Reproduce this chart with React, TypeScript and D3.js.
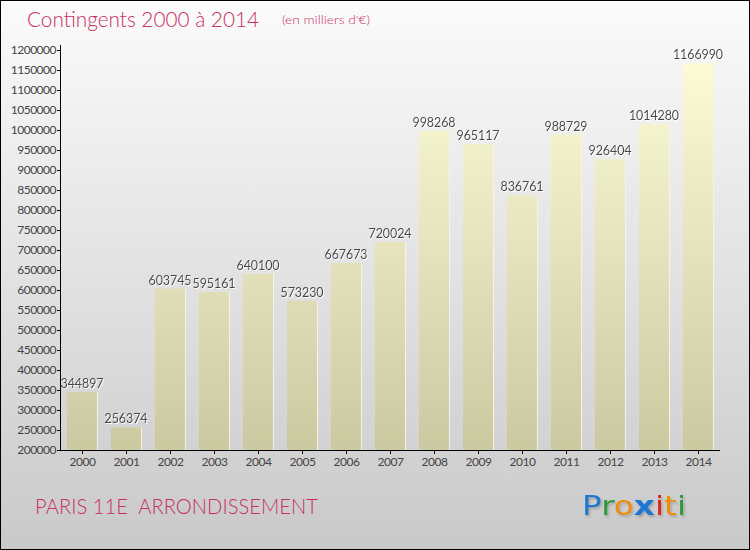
import React from "react";
import * as d3 from "d3";

const years = ["2000","2001","2002","2003","2004","2005","2006","2007","2008","2009","2010","2011","2012","2013","2014"];
const values = [344897,256374,603745,595161,640100,573230,667673,720024,998268,965117,836761,988729,926404,1014280,1166990];
const yTicks = d3.range(200000, 1200001, 50000);

const W = 750, H = 550;
const left = 60, right = 720, top = 50, bottom = 450;
const font = "Lato, 'Open Sans', sans-serif";
const pink = "#c8305f";

export default function App() {
  const x = d3.scaleBand<string>().domain(years).range([left, right]).padding(0);
  const y = d3.scaleLinear().domain([200000, 1200000]).range([bottom, top]);
  const bw = x.bandwidth() * 0.68;
  const logo: [string, string][] = [["P","#1e78d0"],["r","#2a9a3c"],["o","#f28c00"],["x","#1e78d0"],["i","#e0241c"],["t","#f28c00"],["i","#2a9a3c"]];
  return (
    <svg width={W} height={H} style={{ position: "absolute", left: 0, top: 0 }}>
      <defs>
        <linearGradient id="bg" x1="0" y1="0" x2="0" y2="1">
          <stop offset="0" stopColor="#fbfbfb" />
          <stop offset="1" stopColor="#c9c9c9" />
        </linearGradient>
        <linearGradient id="bar" gradientUnits="userSpaceOnUse" x1="0" y1={top} x2="0" y2={bottom}>
          <stop offset="0" stopColor="#fdfdd6" />
          <stop offset="1" stopColor="#cbc9a0" />
        </linearGradient>
        <filter id="sh" x="-20%" y="-20%" width="140%" height="140%">
          <feDropShadow dx="1" dy="1" stdDeviation="0.6" floodColor="#ffffff" floodOpacity="0.9" />
        </filter>
        <filter id="lsh" x="-20%" y="-20%" width="140%" height="160%">
          <feDropShadow dx="1.5" dy="2" stdDeviation="1" floodColor="#888" floodOpacity="0.6" />
        </filter>
      </defs>
      <rect x={0.5} y={0.5} width={W - 1} height={H - 1} fill="url(#bg)" stroke="#000" strokeWidth={1} />
      <text x={27} y={27} fontFamily={font} fontWeight={300} fontSize={22} fill={pink} textLength={232} lengthAdjust="spacingAndGlyphs">Contingents 2000 à 2014</text>
      <text x={282} y={24} fontFamily={font} fontWeight={300} fontSize={12} fill={pink} textLength={88} lengthAdjust="spacingAndGlyphs">(en milliers d'€)</text>

      {values.map((v, i) => {
        const cx = (x(years[i]) as number) + x.bandwidth() / 2;
        const yt = y(v);
        return (
          <g key={years[i]}>
            <rect x={cx - bw / 2} y={yt} width={bw} height={bottom - yt} fill="url(#bar)" />
            <line x1={cx + bw / 2 + 0.5} x2={cx + bw / 2 + 0.5} y1={yt} y2={bottom} stroke="#f4f4ea" strokeWidth={1} />
            <text x={cx} y={yt - 4} textAnchor="middle" fontFamily={font} fontSize={12.5} fill="#444" filter="url(#sh)" letterSpacing={-0.1}>{v}</text>
          </g>
        );
      })}

      <line x1={left + 0.5} x2={left + 0.5} y1={top - 5} y2={bottom} stroke="#000" />
      {yTicks.map(t => (
        <g key={t}>
          <line x1={left - 3} x2={left} y1={Math.round(y(t)) + 0.5} y2={Math.round(y(t)) + 0.5} stroke="#000" />
          <text x={left - 4} y={y(t) + 4} textAnchor="end" fontFamily={font} fontSize={12} fill="#444" letterSpacing={-0.5}>{t}</text>
        </g>
      ))}
      <line x1={left} x2={right} y1={bottom + 0.5} y2={bottom + 0.5} stroke="#000" />
      {years.map(yr => {
        const cx = Math.round((x(yr) as number) + x.bandwidth() / 2) + 0.5;
        return (
          <g key={yr}>
            <line x1={cx} x2={cx} y1={bottom} y2={bottom + 4} stroke="#000" />
            <text x={cx} y={bottom + 16} textAnchor="middle" fontFamily={font} fontSize={12} fill="#444" letterSpacing={-0.4}>{yr}</text>
          </g>
        );
      })}

      <text x={35} y={514} fontFamily={font} fontWeight={300} fontSize={22} fill={pink} textLength={283} lengthAdjust="spacingAndGlyphs" style={{ whiteSpace: "pre" }}>PARIS 11E  ARRONDISSEMENT</text>

      <text x={582} y={515} fontFamily="'DejaVu Sans', sans-serif" fontSize={27} filter="url(#lsh)" textLength={104} lengthAdjust="spacingAndGlyphs">
        {logo.map(([c, col], i) => (
          <tspan key={i} fill={col} fontWeight={c === "x" ? "bold" : "normal"}>{c}</tspan>
        ))}
      </text>
    </svg>
  );
}
